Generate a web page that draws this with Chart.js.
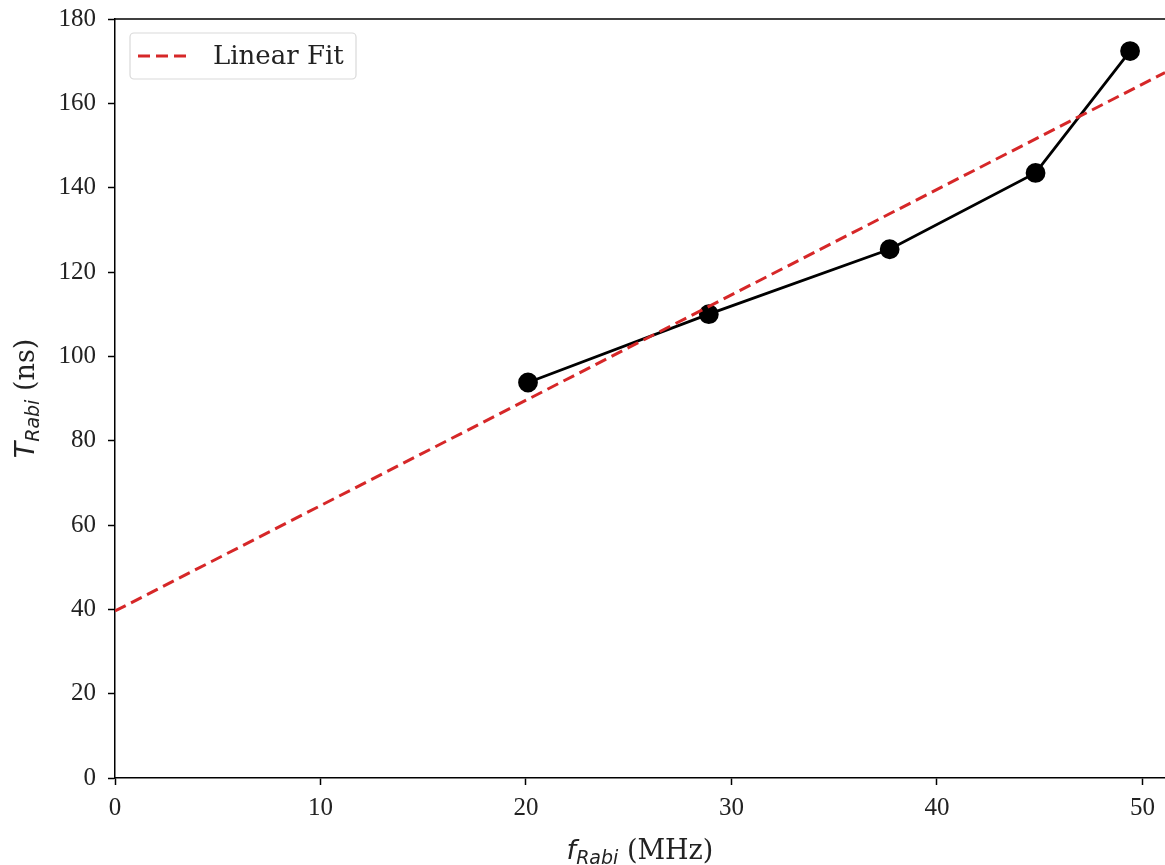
<!DOCTYPE html>
<html>
<head>
<meta charset="utf-8">
<script src="https://cdn.jsdelivr.net/npm/chart.js@4.4.0/dist/chart.umd.min.js"></script>
<style>
  html, body { margin: 0; padding: 0; background: #fff; overflow: hidden; }
  #wrap { width: 1165px; height: 865px; }
</style>
</head>
<body>
<div id="wrap"><canvas id="rabi"></canvas></div>
<script>
'use strict';
// measured points
var fRabi = [20.1, 28.9, 37.7, 44.8, 49.4];
var tRabi = [93.8, 110.0, 125.4, 143.5, 172.4];
// linear fit end points
var fitX = [0, 51.1];
var fitY = [39.6, 167.3];
var xTicks = [0, 10, 20, 30, 40, 50];
var yTicks = [0, 20, 40, 60, 80, 100, 120, 140, 160, 180];

function pts(xs, ys) {
    return xs.map(function (x, i) { return { x: x, y: ys[i] }; });
}

// top spine, legend box and axis titles drawn like matplotlib
var decor = {
    id: 'decor',
    afterDraw: function (chart) {
        var ctx = chart.ctx;
        var a = chart.chartArea;
        ctx.save();
        ctx.strokeStyle = '#000';
        ctx.lineWidth = 1.5;
        ctx.beginPath();
        ctx.moveTo(a.left, a.top);
        ctx.lineTo(a.right, a.top);
        ctx.stroke();

        // legend
        var fit = chart.data.datasets[1];
        var bx = a.left + 15, by = a.top + 14, bw = 226, bh = 46;
        ctx.fillStyle = 'rgba(255,255,255,0.8)';
        ctx.strokeStyle = '#d9d9d9';
        ctx.lineWidth = 1.2;
        ctx.beginPath();
        ctx.roundRect(bx, by, bw, bh, 4);
        ctx.fill();
        ctx.stroke();
        ctx.strokeStyle = fit.borderColor;
        ctx.lineWidth = fit.borderWidth;
        ctx.setLineDash(fit.borderDash);
        ctx.beginPath();
        ctx.moveTo(bx + 8, by + bh / 2);
        ctx.lineTo(bx + 62, by + bh / 2);
        ctx.stroke();
        ctx.setLineDash([]);
        ctx.fillStyle = '#222';
        ctx.font = '26px "DejaVu Serif"';
        ctx.textBaseline = 'middle';
        ctx.fillText(fit.label, bx + 83, by + bh / 2 + 1);

        // x title
        var cx = (a.left + a.right) / 2;
        drawTitle(ctx, 'f', 'Rabi', ' (MHz)', cx, 850, 0);
        // y title
        drawTitle(ctx, 'T', 'Rabi', ' (ns)', 25, (a.top + a.bottom) / 2, -Math.PI / 2);
        ctx.restore();
    }
};

function drawTitle(ctx, sym, sub, unit, cx, cy, rot) {
    var f1 = 'italic 27px "DejaVu Sans"';
    var f2 = 'italic 19px "DejaVu Sans"';
    var f3 = '27px "DejaVu Serif"';
    ctx.save();
    ctx.font = f1; var w1 = ctx.measureText(sym).width;
    ctx.font = f2; var w2 = ctx.measureText(sub).width;
    ctx.font = f3; var w3 = ctx.measureText(unit).width;
    var total = w1 + w2 + w3;
    ctx.translate(cx, cy);
    ctx.rotate(rot);
    ctx.fillStyle = '#222';
    ctx.textBaseline = 'alphabetic';
    var x = -total / 2, base = 9;
    ctx.font = f1; ctx.fillText(sym, x, base); x += w1;
    ctx.font = f2; ctx.fillText(sub, x, base + 5); x += w2;
    ctx.font = f3; ctx.fillText(unit, x, base);
    ctx.restore();
}

var ctx = document.getElementById('rabi');
var rabiChart = new Chart(ctx, {
    type: 'scatter',
    data: {
        datasets: [
            {
                label: 'Data',
                data: pts(fRabi, tRabi),
                showLine: true,
                borderColor: '#000',
                backgroundColor: '#000',
                borderWidth: 2.8,
                pointRadius: 8.5,
                pointHoverRadius: 8.5,
                order: 1
            },
            {
                label: 'Linear Fit',
                data: pts(fitX, fitY),
                showLine: true,
                borderColor: '#d62728',
                backgroundColor: '#d62728',
                borderWidth: 3,
                borderDash: [12, 6],
                pointRadius: 0,
                order: 0
            }
        ]
    },
    options: {
        responsive: true,
        maintainAspectRatio: false,
        animation: false,
        layout: { autoPadding: false, padding: { top: 19, right: 0, left: 0, bottom: 0 } },
        plugins: {
            legend: { display: false },
            tooltip: { enabled: false }
        },
        scales: {
            x: {
                type: 'linear',
                min: 0,
                max: 51.1,
                afterBuildTicks: function (axis) {
                    axis.ticks = xTicks.map(function (v) { return { value: v }; });
                },
                afterFit: function (axis) {
                    axis.height = 87;
                    axis.paddingLeft = 0;
                    axis.paddingRight = 0;
                },
                grid: { drawOnChartArea: false, drawTicks: true, tickLength: 7, color: '#000', tickWidth: 1.5 },
                border: { display: true, color: '#000', width: 1.5 },
                ticks: {
                    color: '#222',
                    padding: 8,
                    maxRotation: 0,
                    font: { family: '"Liberation Serif"', size: 25 }
                }
            },
            y: {
                type: 'linear',
                min: 0,
                max: 180,
                afterBuildTicks: function (axis) {
                    axis.ticks = yTicks.map(function (v) { return { value: v }; });
                },
                afterFit: function (axis) {
                    axis.width = 115;
                    axis.paddingTop = 0;
                    axis.paddingBottom = 0;
                },
                grid: { drawOnChartArea: false, drawTicks: true, tickLength: 7, color: '#000', tickWidth: 1.5 },
                border: { display: true, color: '#000', width: 1.5 },
                ticks: {
                    color: '#222',
                    padding: 12,
                    font: { family: '"Liberation Serif"', size: 25 }
                }
            }
        }
    },
    plugins: [decor]
});
</script>
</body>
</html>
